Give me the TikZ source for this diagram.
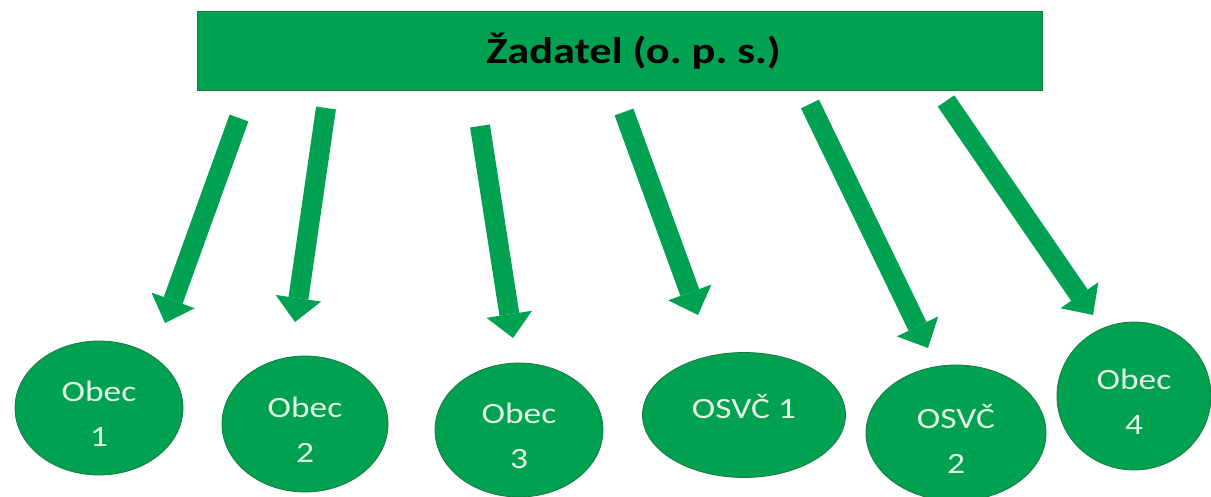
\documentclass[tikz,border=0pt]{standalone}
\usepackage{fontspec}
\setmainfont{Carlito}[FakeStretch = 1.2]
\usetikzlibrary{arrows.meta, shapes.geometric}

\definecolor{zelena}{RGB}{0, 161, 80}
\definecolor{okraj}{RGB}{26, 120, 64}
\definecolor{mata}{RGB}{228, 247, 228}

\tikzset{
	 zadatel/.style = {draw = okraj, fill = zelena, line width = 1pt, minimum width = 845pt, minimum height = 79pt, inner sep = 0pt},
	 kruh/.style = {ellipse, draw = okraj, fill = zelena, line width = 0.8pt, inner sep = 0pt},
	 popis/.style = {text = mata, font = \fontsize{29.5}{45}\selectfont, align = center, yshift = -6pt},
	 sipka/.style = {zelena, line width = 20pt, -{Triangle[width = 46pt, length = 24pt, line width' = 0pt]}}
}

\begin{document}
\begin{tikzpicture}[x = 1pt, y = -1pt]
	 \useasboundingbox (0, 0) rectangle (1211, 497);
	 
	 \node[zadatel, label = {[font = \bfseries\fontsize{37}{40}\selectfont, xshift = 14pt]center:Žadatel (o.\ p.\ s.)}] (zad) at (619.5, 51.5) {};
	 
	 \node[kruh, minimum width = 168pt, minimum height = 134pt, label = {[popis]center:{Obec\\1}}] (obec1) at (99, 408) {};
	 \node[kruh, minimum width = 166pt, minimum height = 136pt, label = {[popis]center:{Obec\\2}}] (obec2) at (305, 424) {};
	 \node[kruh, minimum width = 168pt, minimum height = 134pt, label = {[popis]center:{Obec\\3}}] (obec3) at (519, 430) {};
	 \node[kruh, minimum width = 203pt, minimum height = 125pt, label = {[popis, yshift = 14pt]center:{OSVČ 1}}] (osvc1) at (744, 415) {};
	 \node[kruh, minimum width = 180pt, minimum height = 136pt, label = {[popis]center:{OSVČ\\2}}] (osvc2) at (956, 433) {};
	 \node[kruh, minimum width = 154pt, minimum height = 148pt, label = {[popis]center:{Obec\\4}}] (obec4) at (1134, 396) {};
	 
	 \coordinate (s1) at (239, 118);
	 \coordinate (e1) at (165, 323);
	 \coordinate (s2) at (326, 108);
	 \coordinate (e2) at (295, 322);
	 \coordinate (s3) at (480, 126);
	 \coordinate (e3) at (513, 338);
	 \coordinate (s4) at (624, 112);
	 \coordinate (e4) at (698, 315);
	 \coordinate (s5) at (810, 104);
	 \coordinate (e5) at (928, 348);
	 \coordinate (s6) at (946, 101);
	 \coordinate (e6) at (1093, 315);
	 
	 \draw[sipka] (s1) -- (e1);
	 \draw[sipka] (s2) -- (e2);
	 \draw[sipka] (s3) -- (e3);
	 \draw[sipka] (s4) -- (e4);
	 \draw[sipka] (s5) -- (e5);
	 \draw[sipka] (s6) -- (e6);
\end{tikzpicture}
\end{document}
